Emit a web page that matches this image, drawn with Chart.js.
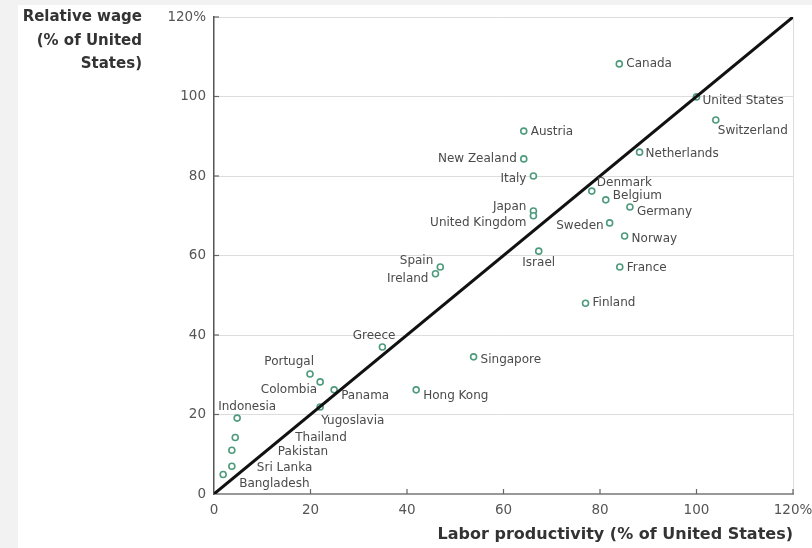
<!DOCTYPE html>
<html>
<head>
<meta charset="utf-8">
<script src="https://cdn.jsdelivr.net/npm/chart.js@4/dist/chart.umd.min.js"></script>
<style>
  body { margin:0; background:#f2f2f2; width:812px; height:548px; overflow:hidden; }
  #box { position:absolute; left:18px; top:5px; width:794px; height:543px; background:#fff; }
</style>
</head>
<body>
<div id="box"><canvas id="myChart" width="794" height="543"></canvas></div>
<script>
// countries and their values (% of United States)
var countries = ['Canada','United States','Switzerland','Netherlands','Austria','New Zealand','Italy',
  'Denmark','Belgium','Germany','Japan','United Kingdom','Sweden','Norway','Israel','France','Finland',
  'Spain','Ireland','Greece','Singapore','Hong Kong','Portugal','Colombia','Panama','Yugoslavia',
  'Indonesia','Thailand','Pakistan','Sri Lanka','Bangladesh']
var productivity = [84,100,104,88.2,64.2,64.2,66.2,
  78.3,81.2,86.2,66.2,66.2,82,85.1,67.3,84.1,77,
  46.9,45.9,34.9,53.8,41.9,19.9,22,24.9,22,
  4.8,4.4,3.7,3.7,1.9]
var wage = [108.2,99.9,94.1,86,91.3,84.3,80,
  76.2,74,72.2,71.2,70,68.2,64.9,61.1,57.1,48,
  57.1,55.4,37,34.5,26.2,30.2,28.2,26.2,21.9,
  19.1,14.2,11,7,4.9]
var lineX = [0,120]
var lineY = [0,120]
var ticks = [0,20,40,60,80,100,120]

var font = "'DejaVu Sans', sans-serif"
var points = countries.map(function(c,i){ return {x:productivity[i], y:wage[i]} })

// where each name sits relative to its point
var place = {
  'Canada':[7,0,'left'], 'United States':[6,4,'left'], 'Switzerland':[2,11,'left'],
  'Netherlands':[6,2,'left'], 'Austria':[7,1,'left'], 'New Zealand':[-7,0,'right'],
  'Italy':[-7,3,'right'], 'Denmark':[5,-8,'left'], 'Belgium':[7,-4,'left'], 'Germany':[7,5,'left'],
  'Japan':[-7,-4,'right'], 'United Kingdom':[-7,7,'right'], 'Sweden':[-6,3,'right'],
  'Norway':[7,3,'left'], 'Israel':[0,12,'center'], 'France':[7,1,'left'], 'Finland':[7,0,'left'],
  'Spain':[-7,-6,'right'], 'Ireland':[-7,5,'right'], 'Greece':[13,-11,'right'],
  'Singapore':[7,3,'left'], 'Hong Kong':[7,6,'left'], 'Portugal':[4,-12,'right'],
  'Colombia':[-3,8,'right'], 'Panama':[7,6,'left'], 'Yugoslavia':[1,14,'left'],
  'Indonesia':[-19,-11,'left'], 'Thailand':[60,0,'left'], 'Pakistan':[46,2,'left'],
  'Sri Lanka':[25,2,'left'], 'Bangladesh':[16,9,'left']
}

var extras = {
  id:'extras',
  afterDatasetsDraw: function(chart){
    var c = chart.ctx, xs = chart.scales.x, ys = chart.scales.y, a = chart.chartArea
    c.save()
    // inward tick marks
    c.strokeStyle = '#666'; c.lineWidth = 1.2
    ticks.forEach(function(t){
      if (t === 0) return
      var py = ys.getPixelForValue(t)
      c.beginPath(); c.moveTo(a.left, py); c.lineTo(a.left+5, py); c.stroke()
      var px = xs.getPixelForValue(t)
      c.beginPath(); c.moveTo(px, a.bottom); c.lineTo(px, a.bottom-5); c.stroke()
    })
    // point names
    c.font = '12px ' + font
    c.fillStyle = '#4a4a4a'
    c.textBaseline = 'middle'
    countries.forEach(function(name,i){
      var p = place[name]
      c.textAlign = p[2]
      c.fillText(name, xs.getPixelForValue(productivity[i]) + p[0], ys.getPixelForValue(wage[i]) + p[1])
    })
    // y title
    c.font = 'bold 15px ' + font
    c.fillStyle = '#333'
    c.textAlign = 'right'
    c.fillText('Relative wage', 124, 12)
    c.fillText('(% of United', 124, 36)
    c.fillText('States)', 124, 59)
    c.restore()
  }
}

new Chart(document.getElementById('myChart'), {
  data: {
    datasets: [{
      type: 'line',
      data: lineX.map(function(v,i){ return {x:v, y:lineY[i]} }),
      borderColor: '#111',
      borderWidth: 3,
      pointRadius: 0,
      order: 1
    },{
      type: 'scatter',
      data: points,
      pointRadius: 3,
      pointBorderWidth: 1.6,
      borderColor: '#4e9b7c',
      backgroundColor: '#fff',
      order: 2
    }]
  },
  options: {
    responsive: false,
    animation: false,
    layout: { padding: { top: 12, right: 19, left: 0, bottom: 0 } },
    plugins: { legend: { display: false }, tooltip: { enabled: false } },
    scales: {
      x: {
        type: 'linear', min: 0, max: 120,
        afterFit: function(s){ s.height = 54; s.paddingLeft = 0; s.paddingRight = 0 },
        afterBuildTicks: function(s){ s.ticks = ticks.map(function(v){ return {value:v} }) },
        border: { color: '#999', width: 2 },
        grid: { drawTicks: false, color: function(ctx){ return ctx.tick && ctx.tick.value === 120 ? '#ddd' : 'rgba(0,0,0,0)' } },
        ticks: { padding: 8, color: '#555', font: { family: font, size: 13.5 },
          callback: function(v){ return v === 120 ? '120%' : v } },
        title: { display: true, text: 'Labor productivity (% of United States)', align: 'end',
          color: '#333', font: { family: font, size: 16, weight: 'bold' }, padding: { top: 3 } }
      },
      y: {
        type: 'linear', min: 0, max: 120,
        afterFit: function(s){ s.width = 196; s.paddingTop = 0; s.paddingBottom = 0 },
        afterBuildTicks: function(s){ s.ticks = ticks.map(function(v){ return {value:v} }) },
        border: { color: '#555', width: 1.5 },
        grid: { drawTicks: false, color: function(ctx){ return ctx.tick && ctx.tick.value === 0 ? 'rgba(0,0,0,0)' : '#ddd' } },
        ticks: { padding: 8, color: '#555', font: { family: font, size: 13.5 },
          callback: function(v){ return v === 120 ? '120%' : v } }
      }
    }
  },
  plugins: [extras]
})
</script>
</body>
</html>
